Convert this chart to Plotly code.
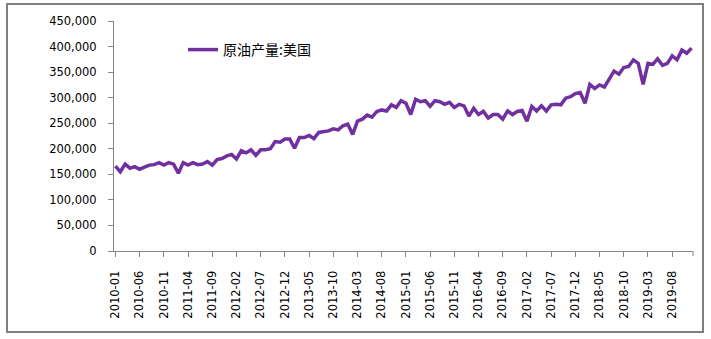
import plotly.graph_objects as go

# Monthly US crude oil output, Jan 2010 - Dec 2019 (thousand barrels)
months = [f"{y}-{m:02d}" for y in range(2010, 2020) for m in range(1, 13)]
us_output = [
    166000, 155000, 170000, 162000, 165000, 160000, 164000, 168000, 169000, 173000, 168000, 173000,
    170000, 152000, 173000, 168000, 173000, 169000, 170000, 175000, 168000, 179000, 181000, 186000,
    189000, 180000, 196000, 192000, 198000, 187000, 198000, 198000, 200000, 214000, 213000, 219000,
    219000, 201000, 222000, 222000, 226000, 220000, 232000, 234000, 235000, 239000, 237000, 245000,
    248000, 228000, 254000, 258000, 266000, 262000, 273000, 276000, 274000, 286000, 281000, 294000,
    289000, 267000, 297000, 292000, 294000, 283000, 294000, 292000, 287000, 291000, 281000, 287000,
    284000, 264000, 279000, 267000, 273000, 260000, 267000, 267000, 258000, 274000, 267000, 273000,
    275000, 254000, 283000, 274000, 284000, 274000, 286000, 287000, 286000, 299000, 302000, 308000,
    310000, 289000, 326000, 318000, 325000, 321000, 335000, 352000, 346000, 359000, 361000, 374000,
    367000, 326000, 367000, 365000, 376000, 363000, 367000, 382000, 374000, 393000, 387000, 397000,
]
tick_months = months[::5]
series_name = "原油产量:美国"

W, H = 711, 339
ML, MR, MT, MB = 114, 18, 21, 88
pw, ph = W - ML - MR, H - MT - MB

def px_x(x):
    return (x - ML) / pw

def px_y(y):
    return (H - MB - y) / ph

axis_grey = "#868686"
tick_font = dict(family="DejaVu Sans, Verdana, sans-serif", size=11.5, color="#000000")

fig = go.Figure()
fig.add_trace(go.Scatter(
    x=months, y=us_output, mode="lines", name=series_name,
    line=dict(color="#7030A0", width=3.5),
    showlegend=True,
))

fig.update_layout(
    width=W, height=H,
    margin=dict(l=ML, r=MR, t=MT, b=MB, pad=0),
    paper_bgcolor="#ffffff", plot_bgcolor="#ffffff",
    showlegend=True,
    legend=dict(
        x=px_x(183), y=px_y(50), xanchor="left", yanchor="middle",
        bgcolor="rgba(0,0,0,0)", borderwidth=0,
        font=dict(family="Noto Sans CJK SC", size=14, color="#000000"),
        itemwidth=30,
    ),
    xaxis=dict(
        type="category", range=[-0.3, 119.3],
        tickmode="array", tickvals=tick_months, ticktext=tick_months,
        tickangle=-90, tickfont=tick_font,
        showline=True, linecolor=axis_grey, linewidth=1,
        ticks="outside", ticklen=5, tickcolor=axis_grey, tickwidth=1,
        ticklabelstandoff=9,
        showgrid=False, zeroline=False,
    ),
    yaxis=dict(
        range=[0, 450000], dtick=50000, tick0=0, tickformat=",",
        tickfont=tick_font,
        showline=True, linecolor=axis_grey, linewidth=1,
        ticks="outside", ticklen=5, tickcolor=axis_grey, tickwidth=1,
        ticklabelstandoff=9,
        showgrid=False, zeroline=False,
    ),
    shapes=[
        # outer chart frame
        dict(type="rect", xref="paper", yref="paper",
             x0=px_x(7), x1=px_x(703), y0=px_y(332), y1=px_y(4),
             line=dict(color="#7f7f7f", width=2), fillcolor="rgba(0,0,0,0)", layer="below"),
        # closing tick at the right end of the category axis
        dict(type="line", xref="paper", yref="paper",
             x0=1, x1=1, y0=0, y1=px_y(H - MB + 5),
             line=dict(color=axis_grey, width=1)),
    ],
)

fig.write_html("out.html")
